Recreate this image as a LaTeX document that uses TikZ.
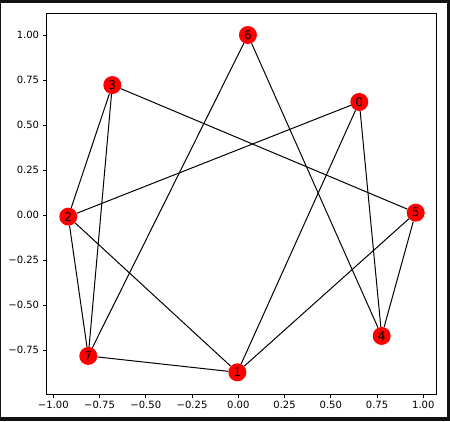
\documentclass[tikz,border=0pt]{standalone}
\usepackage{fontspec}
\setmainfont{DejaVu Sans}
\usepackage{xcolor}

\begin{document}
\begin{tikzpicture}[x=1pt,y=-1pt,
    vtx/.style={circle, fill=red, inner sep=0pt, minimum size=18pt, font=\fontsize{12}{12}\selectfont},
    edge/.style={line width=1pt, black},
    ticklbl/.style={font=\fontsize{10}{10}\selectfont, inner sep=0pt}]
      % \draw[help lines, gray!50, very thin] (0,0) grid (450,421);
      \useasboundingbox (0,0) rectangle (450,421);
      \fill[black!93] (0,0) rectangle (450,421);
      \fill[white] (1,3) rectangle (446.7,417.3);

      % axes frame and ticks
      \draw[line width=0.8pt] (46.3,13.3) rectangle (436.3,394);
      \foreach \v [count=\i from 0] in {−1.00,−0.75,−0.50,−0.25,0.00,0.25,0.50,0.75,1.00} {
        \draw[line width=0.8pt] (53.3+46.25*\i,394) -- ++(0,3.5);
        \node[ticklbl, anchor=north] at (53.3+46.25*\i,401) {\v};
      }
      \foreach \v [count=\i from 0] in {1.00,0.75,0.50,0.25,0.00,−0.25,−0.50,−0.75} {
        \draw[line width=0.8pt] (46.3,35+45*\i) -- ++(-3.5,0);
        \node[ticklbl, anchor=east] at (39.3,35+45*\i) {\v};
      }

      % graph in data coordinates
      \begin{scope}[shift={(238.3,215)}, x=185pt, y=180pt]
        \node[vtx] (n0) at (0.654,0.628) {0};
        \node[vtx] (n1) at (-0.005,-0.874) {1};
        \node[vtx] (n2) at (-0.919,-0.009) {2};
        \node[vtx] (n3) at (-0.681,0.722) {3};
        \node[vtx] (n4) at (0.775,-0.672) {4};
        \node[vtx] (n5) at (0.959,0.013) {5};
        \node[vtx] (n6) at (0.052,1.0) {6};
        \node[vtx] (n7) at (-0.811,-0.783) {7};

        \foreach \a/\b in {6/7,6/4,3/2,3/7,3/5,0/2,0/1,0/4,5/4,5/1,2/7,2/1,7/1}
          \draw[edge] (n\a) -- (n\b);
      \end{scope}
    \end{tikzpicture}
\end{document}
